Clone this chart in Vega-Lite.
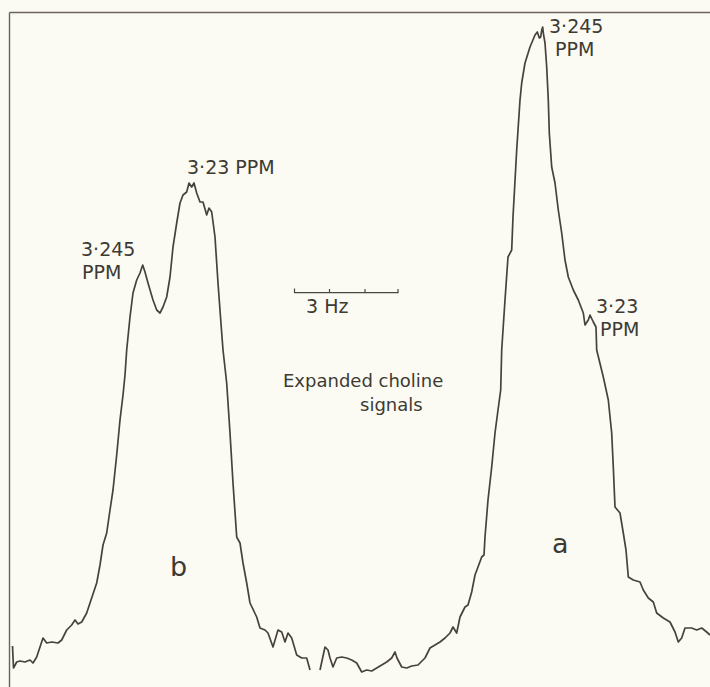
{
  "$schema": "https://vega.github.io/schema/vega-lite/v6.json",
  "width": 701,
  "height": 675,
  "padding": {"left": 9, "top": 12, "right": 0, "bottom": 0},
  "autosize": {"type": "none"},
  "background": "#fbfaf3",
  "config": {"view": {"stroke": null}, "font": "DejaVu Sans"},
  "datasets": {
    "trace": [
      {"seg": 1, "x": 12.5, "signal": 41}, {"seg": 1, "x": 13.5, "signal": 19}, {"seg": 1, "x": 16.7, "signal": 25},
      {"seg": 1, "x": 20, "signal": 26}, {"seg": 1, "x": 25, "signal": 25}, {"seg": 1, "x": 30, "signal": 27},
      {"seg": 1, "x": 33, "signal": 24}, {"seg": 1, "x": 36.7, "signal": 30}, {"seg": 1, "x": 40, "signal": 40},
      {"seg": 1, "x": 43, "signal": 49}, {"seg": 1, "x": 46.7, "signal": 44}, {"seg": 1, "x": 51.7, "signal": 45},
      {"seg": 1, "x": 58, "signal": 44}, {"seg": 1, "x": 61.7, "signal": 47}, {"seg": 1, "x": 66.7, "signal": 57},
      {"seg": 1, "x": 71.7, "signal": 62}, {"seg": 1, "x": 75, "signal": 67}, {"seg": 1, "x": 78, "signal": 63},
      {"seg": 1, "x": 81.7, "signal": 65}, {"seg": 1, "x": 86.7, "signal": 74}, {"seg": 1, "x": 90, "signal": 84},
      {"seg": 1, "x": 96.7, "signal": 104}, {"seg": 1, "x": 100, "signal": 122}, {"seg": 1, "x": 103, "signal": 142},
      {"seg": 1, "x": 106.7, "signal": 154}, {"seg": 1, "x": 110, "signal": 177}, {"seg": 1, "x": 113, "signal": 197},
      {"seg": 1, "x": 116.7, "signal": 232}, {"seg": 1, "x": 120, "signal": 267}, {"seg": 1, "x": 123, "signal": 292},
      {"seg": 1, "x": 125, "signal": 312}, {"seg": 1, "x": 126.7, "signal": 337}, {"seg": 1, "x": 130, "signal": 370},
      {"seg": 1, "x": 133, "signal": 394}, {"seg": 1, "x": 136.7, "signal": 407}, {"seg": 1, "x": 140, "signal": 414},
      {"seg": 1, "x": 142.7, "signal": 422}, {"seg": 1, "x": 145, "signal": 415}, {"seg": 1, "x": 148, "signal": 404},
      {"seg": 1, "x": 153, "signal": 387}, {"seg": 1, "x": 156.7, "signal": 377}, {"seg": 1, "x": 160, "signal": 374},
      {"seg": 1, "x": 163, "signal": 380}, {"seg": 1, "x": 166.7, "signal": 390}, {"seg": 1, "x": 170, "signal": 410},
      {"seg": 1, "x": 173, "signal": 440}, {"seg": 1, "x": 176.7, "signal": 464}, {"seg": 1, "x": 180, "signal": 484},
      {"seg": 1, "x": 183, "signal": 492}, {"seg": 1, "x": 186.7, "signal": 495}, {"seg": 1, "x": 189, "signal": 504},
      {"seg": 1, "x": 191.7, "signal": 500}, {"seg": 1, "x": 194, "signal": 504}, {"seg": 1, "x": 196.7, "signal": 494},
      {"seg": 1, "x": 200, "signal": 485}, {"seg": 1, "x": 203, "signal": 485}, {"seg": 1, "x": 206.7, "signal": 472},
      {"seg": 1, "x": 209, "signal": 479}, {"seg": 1, "x": 211.7, "signal": 475}, {"seg": 1, "x": 215, "signal": 450},
      {"seg": 1, "x": 218, "signal": 404}, {"seg": 1, "x": 221.7, "signal": 354}, {"seg": 1, "x": 223, "signal": 337},
      {"seg": 1, "x": 226.7, "signal": 304}, {"seg": 1, "x": 230, "signal": 254}, {"seg": 1, "x": 233, "signal": 204},
      {"seg": 1, "x": 236.7, "signal": 150}, {"seg": 1, "x": 240, "signal": 144}, {"seg": 1, "x": 243, "signal": 124},
      {"seg": 1, "x": 246.7, "signal": 104}, {"seg": 1, "x": 250, "signal": 84}, {"seg": 1, "x": 256.7, "signal": 70},
      {"seg": 1, "x": 260, "signal": 59}, {"seg": 1, "x": 265, "signal": 57}, {"seg": 1, "x": 268, "signal": 54},
      {"seg": 1, "x": 273, "signal": 40}, {"seg": 1, "x": 278, "signal": 57}, {"seg": 1, "x": 281.7, "signal": 55},
      {"seg": 1, "x": 285, "signal": 45}, {"seg": 1, "x": 288, "signal": 54}, {"seg": 1, "x": 291.7, "signal": 49},
      {"seg": 1, "x": 296.7, "signal": 32}, {"seg": 1, "x": 301.7, "signal": 29}, {"seg": 1, "x": 306.7, "signal": 29},
      {"seg": 1, "x": 310, "signal": 17},
      {"seg": 2, "x": 320, "signal": 17}, {"seg": 2, "x": 325, "signal": 40}, {"seg": 2, "x": 328, "signal": 37},
      {"seg": 2, "x": 330, "signal": 29}, {"seg": 2, "x": 333, "signal": 20}, {"seg": 2, "x": 336.7, "signal": 29},
      {"seg": 2, "x": 341.7, "signal": 30}, {"seg": 2, "x": 346.7, "signal": 29}, {"seg": 2, "x": 351.7, "signal": 27},
      {"seg": 2, "x": 356.7, "signal": 24}, {"seg": 2, "x": 361.7, "signal": 15}, {"seg": 2, "x": 366.7, "signal": 17},
      {"seg": 2, "x": 371.7, "signal": 16}, {"seg": 2, "x": 376.7, "signal": 19}, {"seg": 2, "x": 381.7, "signal": 22},
      {"seg": 2, "x": 386.7, "signal": 25}, {"seg": 2, "x": 391.7, "signal": 29}, {"seg": 2, "x": 395, "signal": 35},
      {"seg": 2, "x": 397, "signal": 29}, {"seg": 2, "x": 401.7, "signal": 20}, {"seg": 2, "x": 406.7, "signal": 19},
      {"seg": 2, "x": 411.7, "signal": 21}, {"seg": 2, "x": 418, "signal": 22}, {"seg": 2, "x": 425, "signal": 29},
      {"seg": 2, "x": 430, "signal": 39}, {"seg": 2, "x": 435, "signal": 42}, {"seg": 2, "x": 440, "signal": 45},
      {"seg": 2, "x": 445, "signal": 49}, {"seg": 2, "x": 450, "signal": 54}, {"seg": 2, "x": 453, "signal": 60},
      {"seg": 2, "x": 456.7, "signal": 54}, {"seg": 2, "x": 460, "signal": 70}, {"seg": 2, "x": 465, "signal": 80},
      {"seg": 2, "x": 468, "signal": 82}, {"seg": 2, "x": 471.7, "signal": 95}, {"seg": 2, "x": 475, "signal": 112},
      {"seg": 2, "x": 478, "signal": 120}, {"seg": 2, "x": 481.7, "signal": 130}, {"seg": 2, "x": 484, "signal": 132},
      {"seg": 2, "x": 485, "signal": 150}, {"seg": 2, "x": 488, "signal": 187}, {"seg": 2, "x": 491.7, "signal": 220},
      {"seg": 2, "x": 495, "signal": 254}, {"seg": 2, "x": 498, "signal": 277}, {"seg": 2, "x": 500.7, "signal": 297},
      {"seg": 2, "x": 501.7, "signal": 337}, {"seg": 2, "x": 505, "signal": 387}, {"seg": 2, "x": 508, "signal": 430},
      {"seg": 2, "x": 511.7, "signal": 437}, {"seg": 2, "x": 513, "signal": 470}, {"seg": 2, "x": 516.7, "signal": 537},
      {"seg": 2, "x": 520, "signal": 587}, {"seg": 2, "x": 521.7, "signal": 604}, {"seg": 2, "x": 525, "signal": 624},
      {"seg": 2, "x": 530, "signal": 640}, {"seg": 2, "x": 535, "signal": 652}, {"seg": 2, "x": 537.3, "signal": 655},
      {"seg": 2, "x": 539.3, "signal": 649}, {"seg": 2, "x": 540.7, "signal": 650}, {"seg": 2, "x": 541.7, "signal": 657},
      {"seg": 2, "x": 542.7, "signal": 660}, {"seg": 2, "x": 543.3, "signal": 654}, {"seg": 2, "x": 545, "signal": 644},
      {"seg": 2, "x": 546.7, "signal": 620}, {"seg": 2, "x": 548.3, "signal": 587}, {"seg": 2, "x": 549.3, "signal": 554},
      {"seg": 2, "x": 551.7, "signal": 520}, {"seg": 2, "x": 555, "signal": 504}, {"seg": 2, "x": 558.3, "signal": 477},
      {"seg": 2, "x": 561.7, "signal": 454}, {"seg": 2, "x": 565, "signal": 427}, {"seg": 2, "x": 568.3, "signal": 410},
      {"seg": 2, "x": 573.3, "signal": 397}, {"seg": 2, "x": 578.3, "signal": 387}, {"seg": 2, "x": 583.3, "signal": 374},
      {"seg": 2, "x": 585, "signal": 362}, {"seg": 2, "x": 588.3, "signal": 367}, {"seg": 2, "x": 590, "signal": 372},
      {"seg": 2, "x": 593.3, "signal": 365}, {"seg": 2, "x": 596, "signal": 360}, {"seg": 2, "x": 596.7, "signal": 337},
      {"seg": 2, "x": 603.3, "signal": 310}, {"seg": 2, "x": 608.3, "signal": 287}, {"seg": 2, "x": 611.7, "signal": 254},
      {"seg": 2, "x": 613.3, "signal": 220}, {"seg": 2, "x": 615, "signal": 180}, {"seg": 2, "x": 620, "signal": 174},
      {"seg": 2, "x": 623.3, "signal": 154}, {"seg": 2, "x": 626, "signal": 137}, {"seg": 2, "x": 628.3, "signal": 110},
      {"seg": 2, "x": 633.3, "signal": 107}, {"seg": 2, "x": 640, "signal": 105}, {"seg": 2, "x": 643.3, "signal": 97},
      {"seg": 2, "x": 648.3, "signal": 89}, {"seg": 2, "x": 653.3, "signal": 85}, {"seg": 2, "x": 656.7, "signal": 74},
      {"seg": 2, "x": 663.3, "signal": 69}, {"seg": 2, "x": 670, "signal": 65}, {"seg": 2, "x": 675, "signal": 55},
      {"seg": 2, "x": 678.3, "signal": 45}, {"seg": 2, "x": 681.7, "signal": 49}, {"seg": 2, "x": 685, "signal": 59},
      {"seg": 2, "x": 691.7, "signal": 59}, {"seg": 2, "x": 696.7, "signal": 57}, {"seg": 2, "x": 701.7, "signal": 59},
      {"seg": 2, "x": 706.7, "signal": 55}, {"seg": 2, "x": 710, "signal": 52}
    ],
    "labels": [
      {"x": 549, "signal": 654, "label": "3·245"},
      {"x": 555, "signal": 631, "label": "PPM"},
      {"x": 187, "signal": 513, "label": "3·23 PPM"},
      {"x": 81, "signal": 431, "label": "3·245"},
      {"x": 82, "signal": 408, "label": "PPM"},
      {"x": 596, "signal": 374, "label": "3·23"},
      {"x": 600, "signal": 351, "label": "PPM"},
      {"x": 306, "signal": 374, "label": "3 Hz"}
    ],
    "notes": [
      {"x": 283, "signal": 300, "label": "Expanded choline"},
      {"x": 360, "signal": 276, "label": "signals"}
    ],
    "panels": [
      {"x": 170, "signal": 111, "label": "b"},
      {"x": 552, "signal": 134, "label": "a"}
    ],
    "bar": [
      {"x": 294, "x2": 398.5, "signal": 394.3}
    ],
    "barticks": [
      {"x": 294.5, "signal": 394.3, "signal2": 398.5},
      {"x": 329.5, "signal": 394.3, "signal2": 398},
      {"x": 365, "signal": 394.3, "signal2": 398},
      {"x": 398, "signal": 394.3, "signal2": 398}
    ]
  },
  "layer": [
    {
      "data": {"name": "trace"},
      "mark": {"type": "line", "color": "#47433c", "strokeWidth": 1.7, "strokeJoin": "round"},
      "encoding": {
        "x": {"field": "x", "type": "quantitative", "scale": {"domain": [9, 710], "nice": false, "zero": false},
          "axis": {"orient": "top", "title": null, "labels": false, "ticks": false, "grid": false, "domain": true, "domainColor": "#6a645a", "domainWidth": 1.4}},
        "y": {"field": "signal", "type": "quantitative", "scale": {"domain": [0, 675], "nice": false, "zero": false},
          "axis": {"orient": "left", "title": null, "labels": false, "ticks": false, "grid": false, "domain": true, "domainColor": "#6a645a", "domainWidth": 1.4}},
        "detail": {"field": "seg", "type": "nominal"}
      }
    },
    {
      "data": {"name": "bar"},
      "mark": {"type": "rule", "color": "#4a463f", "strokeWidth": 1.3},
      "encoding": {
        "x": {"field": "x", "type": "quantitative"},
        "x2": {"field": "x2"},
        "y": {"field": "signal", "type": "quantitative"}
      }
    },
    {
      "data": {"name": "barticks"},
      "mark": {"type": "rule", "color": "#4a463f", "strokeWidth": 1.2},
      "encoding": {
        "x": {"field": "x", "type": "quantitative"},
        "y": {"field": "signal", "type": "quantitative"},
        "y2": {"field": "signal2"}
      }
    },
    {
      "data": {"name": "labels"},
      "mark": {"type": "text", "align": "left", "baseline": "alphabetic", "fontSize": 19, "color": "#3d3a34", "font": "DejaVu Sans"},
      "encoding": {
        "x": {"field": "x", "type": "quantitative"},
        "y": {"field": "signal", "type": "quantitative"},
        "text": {"field": "label"}
      }
    },
    {
      "data": {"name": "notes"},
      "mark": {"type": "text", "align": "left", "baseline": "alphabetic", "fontSize": 18, "color": "#3d3a34", "font": "DejaVu Sans"},
      "encoding": {
        "x": {"field": "x", "type": "quantitative"},
        "y": {"field": "signal", "type": "quantitative"},
        "text": {"field": "label"}
      }
    },
    {
      "data": {"name": "panels"},
      "mark": {"type": "text", "align": "left", "baseline": "alphabetic", "fontSize": 27, "color": "#3d3a34", "font": "DejaVu Sans"},
      "encoding": {
        "x": {"field": "x", "type": "quantitative"},
        "y": {"field": "signal", "type": "quantitative"},
        "text": {"field": "label"}
      }
    }
  ]
}
